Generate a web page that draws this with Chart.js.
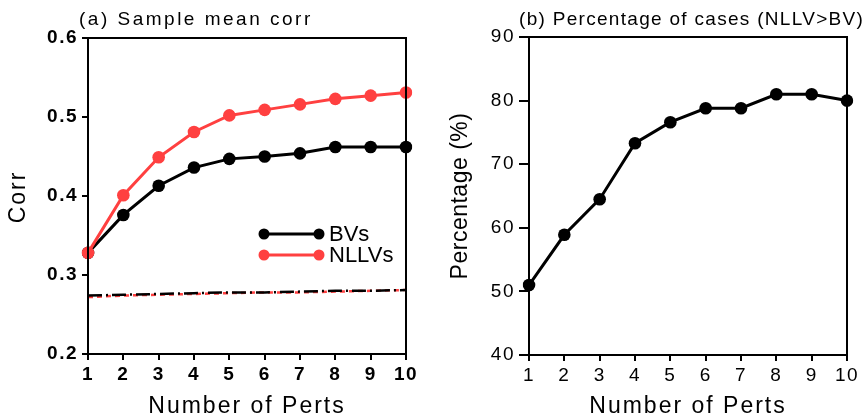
<!DOCTYPE html>
<html>
<head>
<meta charset="utf-8">
<script src="https://cdn.jsdelivr.net/npm/chart.js@4"></script>
<style>
  html, body { margin: 0; padding: 0; background: #fff; }
  #wrap { position: relative; width: 864px; height: 419px; }
  canvas { position: absolute; top: 0; }
</style>
</head>
<body>
<div id="wrap">
  <canvas id="left" width="432" height="419" style="left:0"></canvas>
  <canvas id="right" width="432" height="419" style="left:432px"></canvas>
</div>
<script>
const perts = ['1', '2', '3', '4', '5', '6', '7', '8', '9', '10'];

// (a) sample mean corr
const bvCorr = [0.328, 0.376, 0.413, 0.436, 0.447, 0.450, 0.454, 0.462, 0.462, 0.462];
const nllvCorr = [0.328, 0.401, 0.449, 0.481, 0.502, 0.509, 0.516, 0.523, 0.527, 0.531];
const bvBase = [0.274, 0.275, 0.276, 0.277, 0.278, 0.278, 0.279, 0.280, 0.280, 0.281];
const nllvBase = [0.272, 0.274, 0.275, 0.276, 0.277, 0.278, 0.278, 0.279, 0.280, 0.281];

// (b) percentage of cases (NLLV>BV)
const pctCases = [51.0, 58.9, 64.5, 73.3, 76.6, 78.8, 78.8, 81.0, 81.0, 80.0];

const FONT = 'Liberation Sans';
const RED = '#ff4040';

// draws box, titles, axis titles and inner legend
const panelDecor = {
  id: 'panelDecor',
  beforeDraw(chart) {
    chart.ctx.letterSpacing = '1.5px';
  },
  afterDraw(chart, args, opts) {
    const ctx = chart.ctx;
    const a = chart.chartArea;
    ctx.save();
    ctx.strokeStyle = '#000';
    ctx.lineWidth = 2;
    ctx.strokeRect(a.left, a.top, a.right - a.left, a.bottom - a.top);

    ctx.fillStyle = '#000';
    ctx.letterSpacing = opts.titleSpacing;
    ctx.font = '19px ' + FONT;
    ctx.textAlign = 'left';
    ctx.textBaseline = 'alphabetic';
    ctx.fillText(opts.title, opts.titleX, 25);

    ctx.letterSpacing = '2px';
    ctx.font = '23px ' + FONT;
    ctx.textAlign = 'center';
    ctx.fillText('Number of Perts', (a.left + a.right) / 2, 413);

    ctx.save();
    ctx.letterSpacing = opts.yTitleSpacing;
    ctx.translate(opts.yTitleX, opts.yTitleY);
    ctx.rotate(-Math.PI / 2);
    ctx.textBaseline = 'middle';
    ctx.fillText(opts.yTitle, 0, 0);
    ctx.restore();

    (opts.legend || []).forEach((item, i) => {
      const ds = chart.data.datasets[item.ds];
      const y = opts.legendY + i * 21;
      const x0 = opts.legendX, x1 = opts.legendX + 55;
      ctx.strokeStyle = ds.borderColor;
      ctx.fillStyle = ds.borderColor;
      ctx.lineWidth = 3;
      ctx.beginPath();
      ctx.moveTo(x0, y);
      ctx.lineTo(x1, y);
      ctx.stroke();
      [x0, x1].forEach(x => {
        ctx.beginPath();
        ctx.arc(x, y, 5.5, 0, Math.PI * 2);
        ctx.fill();
      });
      ctx.fillStyle = '#000';
      ctx.font = '22px ' + FONT;
      ctx.textAlign = 'left';
      ctx.textBaseline = 'middle';
      ctx.letterSpacing = '0px';
      ctx.fillText(ds.label, x1 + 10, y + 1);
    });
    ctx.restore();
  }
};

function xScale(bold) {
  return {
    type: 'category',
    offset: false,
    grid: { drawOnChartArea: false, drawTicks: true, tickLength: 6, color: '#000', lineWidth: 2 },
    border: { color: '#000', width: 2 },
    ticks: { color: '#000', font: { family: FONT, size: 19, weight: bold ? 'bold' : 'normal' }, padding: 3, maxRotation: 0, autoSkip: false },
    afterFit(s) { s.height = 64; }
  };
}

function yScale(min, max, step, width, tickLen, bold, fmt) {
  return {
    min: min,
    max: max,
    grid: { drawOnChartArea: false, drawTicks: true, tickLength: tickLen, color: '#000', lineWidth: 2 },
    border: { color: '#000', width: 2 },
    ticks: {
      stepSize: step,
      color: '#000',
      padding: 4,
      font: { family: FONT, size: 19, weight: bold ? 'bold' : 'normal' },
      callback: fmt
    },
    afterFit(s) { s.width = width; }
  };
}

function dotLine(label, data, color, order) {
  return {
    label: label, data: data, order: order,
    borderColor: color, backgroundColor: color,
    borderWidth: 3, pointRadius: 6.3, pointBackgroundColor: color, pointBorderWidth: 0,
    tension: 0
  };
}

function baseLine(data, color, dash, order) {
  return {
    label: '', data: data, order: order,
    borderColor: color, borderWidth: 2.5, borderDash: dash,
    pointRadius: 0, tension: 0
  };
}

new Chart(document.getElementById('left'), {
  type: 'line',
  data: {
    labels: perts,
    datasets: [
      dotLine('NLLVs', nllvCorr, RED, 0),
      dotLine('BVs', bvCorr, '#000', 1),
      baseLine(bvBase, '#000', [14, 4, 2, 4], 2),
      baseLine(nllvBase, RED, [5, 4], 3)
    ]
  },
  options: {
    responsive: false,
    animation: false,
    layout: { padding: { top: 38, right: 26, left: 0, bottom: 1 } },
    scales: {
      x: xScale(true),
      y: yScale(0.2, 0.6, 0.1, 88, 6, true, v => v.toFixed(1))
    },
    plugins: {
      legend: { display: false },
      tooltip: { enabled: false },
      panelDecor: {
        title: '(a) Sample mean corr', titleX: 79, titleSpacing: '2.5px',
        yTitle: 'Corr', yTitleX: 19, yTitleY: 197, yTitleSpacing: '2px',
        legend: [{ ds: 1 }, { ds: 0 }], legendX: 264, legendY: 234
      }
    }
  },
  plugins: [panelDecor]
});

new Chart(document.getElementById('right'), {
  type: 'line',
  data: {
    labels: perts,
    datasets: [dotLine('Percentage', pctCases, '#000', 0)]
  },
  options: {
    responsive: false,
    animation: false,
    layout: { padding: { top: 37, right: 17, left: 0, bottom: 0 } },
    scales: {
      x: xScale(false),
      y: yScale(40, 90, 10, 97, 10, false, v => v)
    },
    plugins: {
      legend: { display: false },
      tooltip: { enabled: false },
      panelDecor: {
        title: '(b) Percentage of cases (NLLV>BV)', titleX: 87, titleSpacing: '1.3px',
        yTitle: 'Percentage (%)', yTitleX: 29, yTitleY: 196, yTitleSpacing: '0.5px'
      }
    }
  },
  plugins: [panelDecor]
});
</script>
</body>
</html>
